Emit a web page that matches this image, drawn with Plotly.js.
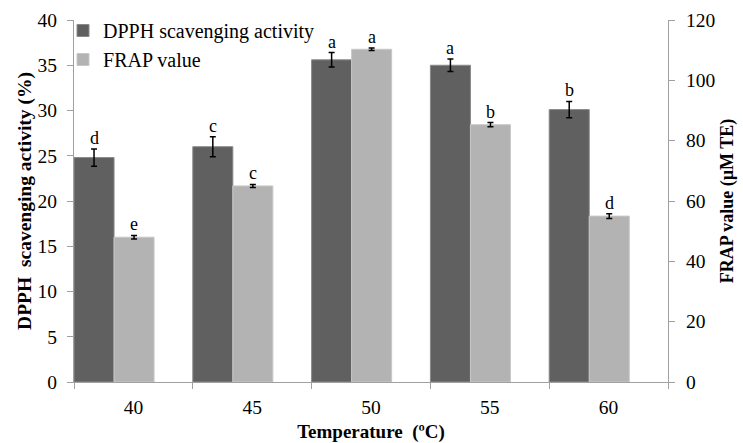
<!DOCTYPE html>
<html><head><meta charset="utf-8">
<script src="https://cdn.plot.ly/plotly-3.0.1.min.js"></script>
<style>body{margin:0;background:#fff}#c{width:743px;height:443px}</style>
</head><body><div id="c"></div>
<script>
const categories = ["40", "45", "50", "55", "60"];
const dpph = [24.8, 26.0, 35.6, 35.0, 30.1];
const dpphErr = [0.95, 1.1, 0.8, 0.7, 0.9];
const dpphLetters = ["d", "c", "a", "a", "b"];
const frap = [48.0, 65.0, 110.3, 85.3, 55.0];
const frapErr = [0.6, 0.5, 0.4, 0.7, 0.8];
const frapLetters = ["e", "c", "a", "b", "d"];

const font = "Liberation Serif, Times New Roman, serif";
const bw = 0.337;
const idx = categories.map((c, i) => i);

const traces = [
  {type: "bar", name: "DPPH scavenging activity", x: categories, y: dpph,
   width: bw, offset: -0.5,
   marker: {color: "#606060", line: {color: "#8a8a8a", width: 1}},
   error_y: {type: "data", array: dpphErr, visible: true, color: "#000", thickness: 1.5, width: 3},
   xaxis: "x", yaxis: "y"},
  {type: "bar", name: "FRAP value", x: categories, y: frap,
   width: bw, offset: -0.5 + bw,
   marker: {color: "#b3b3b3", line: {color: "#c8c8c8", width: 1}},
   error_y: {type: "data", array: frapErr, visible: true, color: "#000", thickness: 1.5, width: 3},
   xaxis: "x", yaxis: "y2"}
];

const annotations = [];
idx.forEach(i => {
  annotations.push({x: i - 0.5 + bw / 2, y: dpph[i] + dpphErr[i], xref: "x", yref: "y",
    text: dpphLetters[i], showarrow: false, yanchor: "bottom", yshift: -1,
    font: {family: font, size: 18, color: "#000"}});
  annotations.push({x: i - 0.5 + bw * 1.5, y: frap[i] + frapErr[i], xref: "x", yref: "y2",
    text: frapLetters[i], showarrow: false, yanchor: "bottom", yshift: -1,
    font: {family: font, size: 18, color: "#000"}});
});

const axisCommon = {showgrid: false, zeroline: false, showline: true, linecolor: "#a0a0a0", linewidth: 1,
  ticks: "outside", ticklen: 6, tickcolor: "#a0a0a0", tickfont: {family: font, size: 19.5, color: "#000"}};

const layout = {
  width: 743, height: 443,
  margin: {l: 74, r: 75, t: 19, b: 61},
  paper_bgcolor: "#fff", plot_bgcolor: "#fff",
  showlegend: true,
  legend: {x: -0.0185, y: 1.022, xanchor: "left", yanchor: "top", bgcolor: "rgba(0,0,0,0)",
    font: {family: font, size: 20, color: "#000"}, tracegroupgap: 0},
  xaxis: Object.assign({}, axisCommon, {type: "category", range: [-0.5, 4.5], tickson: "boundaries",
    ticklabelstandoff: 8,
    title: {text: "<b>Temperature  (ºC)</b>", font: {family: font, size: 19, color: "#000"}, standoff: 9}}),
  yaxis: Object.assign({}, axisCommon, {range: [0, 40], dtick: 5, ticklabelstandoff: 6,
    title: {text: "<b>DPPH  scavenging activity (%)</b>", font: {family: font, size: 19.5, color: "#000"}, standoff: 0}}),
  yaxis2: Object.assign({}, axisCommon, {range: [0, 120], dtick: 20, overlaying: "y", side: "right",
    ticklabelstandoff: 7,
    title: {text: "<b>FRAP value (µM TE)</b>", font: {family: font, size: 18, color: "#000"}, standoff: 6}}),
  annotations: annotations,
  bargap: 0
};

Plotly.newPlot("c", traces, layout, {displayModeBar: false, staticPlot: true});
</script></body></html>
